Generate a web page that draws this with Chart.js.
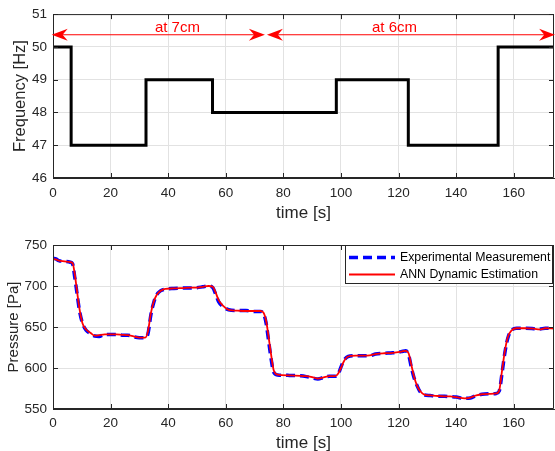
<!DOCTYPE html>
<html><head><meta charset="utf-8">
<script src="https://cdn.jsdelivr.net/npm/chart.js@4/dist/chart.umd.min.js"></script>
<style>
html,body{margin:0;padding:0;background:#fff;overflow:hidden;width:555px;height:451px}
#top{position:absolute;left:0;top:0;width:555px;height:226px}
#bot{position:absolute;left:0;top:226px;width:555px;height:235px}
</style></head><body>
<canvas id="top" width="555" height="226"></canvas>
<canvas id="bot" width="555" height="235"></canvas>
<script>
// ---------- data ----------
const freqTime = [0, 6.3, 32.3, 55.4, 98.4, 123.4, 154.6, 174];
const freqHz   = [50, 47, 49, 48, 49, 47, 50, 50];

const presTime = [0,1,2,4,6,6.8,7.5,8.3,9.2,10.2,11.5,13,14.5,16,18,20,22,24,26,28,30,32,
  33,34,35,36,37.3,39,42,45,48,50,52,54,55.5,56.5,57.5,59,61,64,67,70,72,73,74,75,75.8,76.6,
  78,82,86,88,90,92,94,96,98,99,100,101,102.5,105,108,110,112,115,118,121,122.5,123.5,124.5,
  125.5,126.5,127.5,129,131,133,136,138,140,143,145,147,149,152,154,155,156,157,158,159.3,
  161,164,167,169,171,174];
const presMeasured = [734,733,731,730,729,727,712,692,670,655,646,642,639,638.5,641,641,641,640,640,638,637,637,
  642,665,680,689,694,696,697,697.5,697.5,698,699,700,698,690,681,675,671,670,670,669,669,667,655,630,610,595,
  591.5,591,590.5,589.5,588,586.5,588.5,590,590,592,601,609,614,615,615,615,617,618,618.5,620,621,616,600,
  587,578,571,567,566.5,565.5,565.5,565,564.5,563,563.5,566.5,568,568.5,569,572,595,620,637,646,
  648.5,648.5,648,647.5,648.5,648];
const presEstimated = [733,732.5,731,730,729,728,716,695,672,655,647,643,639.5,640,641,641,641,640.5,640,638.5,637,637,
  645,667,681,689,694,696.5,697,697.5,698,698,699,700,699,692,683,676,671,670,669.5,669.5,669.5,668,658,635,615,598,
  592,591,590.5,590,589,587,588.5,590,590,593,600,608,614,615,615,615.5,617,618,618.5,620,621,618,603,
  588,578,572,567.5,566.5,566,565.5,565.5,564.5,563,564,566.5,568,568.5,569,573,598,622,638,646,
  648.5,648.5,648,647,648.5,648];

const xTicksStep = 20;
const seriesNames = ['Experimental Measurement', 'ANN Dynamic Estimation'];
const annotLabels = ['at 7cm', 'at 6cm'];

// ---------- style ----------
const FONT = "'Liberation Sans', Arial, Helvetica, sans-serif";
const TXT = '#262626';
const GRID = '#e2e2e2';
Chart.defaults.font.family = FONT;
Chart.defaults.color = TXT;

const framePlugin = {
  id: 'frame',
  afterDraw(chart) {
    const {ctx, chartArea: a, scales: {x, y}} = chart;
    ctx.save();
    ctx.strokeStyle = TXT;
    ctx.lineWidth = 1;
    ctx.beginPath();
    ctx.rect(a.left + 0.5, a.top + 0.5, a.right - a.left - 1, a.bottom - a.top - 1);
    const L = 5;
    x.ticks.forEach(t => {
      const p = Math.round(x.getPixelForValue(t.value)) + 0.5;
      ctx.moveTo(p, a.bottom); ctx.lineTo(p, a.bottom - L);
      ctx.moveTo(p, a.top); ctx.lineTo(p, a.top + L);
    });
    y.ticks.forEach(t => {
      const p = Math.round(y.getPixelForValue(t.value)) + 0.5;
      ctx.moveTo(a.left, p); ctx.lineTo(a.left + L, p);
      ctx.moveTo(a.right, p); ctx.lineTo(a.right - L, p);
    });
    ctx.stroke();
    ctx.restore();
  }
};

function head(ctx, tx, ty, dir) {
  const L = 16, W = 12, N = 0.68 * L;
  ctx.beginPath();
  ctx.moveTo(tx, ty);
  ctx.lineTo(tx + dir * L, ty - W / 2);
  ctx.lineTo(tx + dir * N, ty);
  ctx.lineTo(tx + dir * L, ty + W / 2);
  ctx.closePath();
  ctx.fill();
}

const arrowPlugin = {
  id: 'arrows',
  afterDraw(chart) {
    const {ctx, scales: {x, y}} = chart;
    const spans = [[-0.45, 73.6], [74.3, 174.4]];
    const lvl = y.getPixelForValue(50.37);
    const txtY = y.getPixelForValue(50.44);
    const txtX = [43.2, 118.6];
    ctx.save();
    ctx.strokeStyle = '#ff0000';
    ctx.fillStyle = '#ff0000';
    ctx.lineWidth = 1.2;
    spans.forEach(s => {
      const a = x.getPixelForValue(s[0]), b = x.getPixelForValue(s[1]);
      ctx.beginPath(); ctx.moveTo(a + 8, lvl); ctx.lineTo(b - 8, lvl); ctx.stroke();
      head(ctx, a, lvl, 1);
      head(ctx, b, lvl, -1);
    });
    ctx.font = '15px ' + FONT;
    ctx.textAlign = 'center';
    ctx.textBaseline = 'alphabetic';
    annotLabels.forEach((t, i) => ctx.fillText(t, x.getPixelForValue(txtX[i]), txtY));
    ctx.restore();
  }
};

const legendPlugin = {
  id: 'boxlegend',
  afterDraw(chart) {
    const {ctx, chartArea: a} = chart;
    const l = a.right - 209, t = a.top, r = a.right - 1, b = a.top + 39;
    ctx.save();
    ctx.fillStyle = '#fff';
    ctx.fillRect(l, t, r - l, b - t);
    ctx.strokeStyle = TXT; ctx.lineWidth = 1;
    ctx.strokeRect(l + 0.5, t + 0.5, r - l - 1, b - t - 1);
    const ds = chart.data.datasets;
    const rows = [t + 12.5, t + 29.5];
    ds.forEach((d, i) => {
      ctx.beginPath();
      ctx.strokeStyle = d.borderColor;
      ctx.lineWidth = d.borderWidth;
      ctx.setLineDash(d.borderDash || []);
      ctx.moveTo(l + 4, rows[i]); ctx.lineTo(l + 50, rows[i]);
      ctx.stroke();
      ctx.setLineDash([]);
      ctx.fillStyle = '#000';
      ctx.font = '12.3px ' + FONT;
      ctx.textAlign = 'left'; ctx.textBaseline = 'middle';
      ctx.fillText(d.label, l + 55, rows[i] + 0.5);
    });
    ctx.restore();
  }
};

function xAxis(h, tickPad, titlePadBottom) {
  return {
    type: 'linear', min: 0, max: 174,
    ticks: { stepSize: xTicksStep, includeBounds: false, padding: tickPad, font: { size: 13.5 }, color: TXT, maxRotation: 0 },
    grid: { color: GRID, drawTicks: false, lineWidth: 1 },
    border: { display: true, color: TXT, width: 1 },
    title: { display: true, text: 'time [s]', font: { size: 17 }, color: TXT, padding: { top: 0, bottom: titlePadBottom } },
    afterFit: s => { s.height = h; }
  };
}
function yAxis(min, max, step, title, titleSize, titlePad) {
  return {
    type: 'linear', min: min, max: max,
    ticks: { stepSize: step, padding: 6, font: { size: 13.5 }, color: TXT },
    grid: { color: GRID, drawTicks: false, lineWidth: 1 },
    border: { display: true, color: TXT, width: 1 },
    title: { display: true, text: title, font: { size: titleSize }, color: TXT, padding: { top: titlePad, bottom: 0 } },
    afterFit: s => { s.width = 53; }
  };
}

new Chart(document.getElementById('top'), {
  type: 'line',
  data: { datasets: [{
    label: 'Frequency',
    data: freqTime.map((t, i) => ({ x: t, y: freqHz[i] })),
    borderColor: '#000', borderWidth: 3, pointRadius: 0, stepped: 'before',
    borderJoinStyle: 'miter', borderCapStyle: 'butt', fill: false
  }]},
  options: {
    responsive: false, animation: false, events: [],
    layout: { padding: { top: 14, right: 1, left: 0, bottom: 0 } },
    plugins: { legend: { display: false }, tooltip: { enabled: false } },
    scales: { x: xAxis(48, 7, 2.5), y: yAxis(46, 51, 1, 'Frequency [Hz]', 16.5, 10.9) }
  },
  plugins: [framePlugin, arrowPlugin]
});

new Chart(document.getElementById('bot'), {
  type: 'line',
  data: { datasets: [
    { label: seriesNames[0], data: presTime.map((t, i) => ({ x: t, y: presMeasured[i] })),
      borderColor: '#0000ff', borderWidth: 3.5, borderDash: [9, 5], pointRadius: 0,
      cubicInterpolationMode: 'monotone', fill: false, order: 1 },
    { label: seriesNames[1], data: presTime.map((t, i) => ({ x: t, y: presEstimated[i] })),
      borderColor: '#ff0000', borderWidth: 1.8, pointRadius: 0,
      cubicInterpolationMode: 'monotone', fill: false, order: 0 }
  ]},
  options: {
    responsive: false, animation: false, events: [],
    layout: { padding: { top: 19, right: 1, left: 0, bottom: 0 } },
    plugins: { legend: { display: false }, tooltip: { enabled: false } },
    scales: { x: xAxis(52, 6.5, 7.5), y: yAxis(550, 750, 50, 'Pressure [Pa]', 15, 4.7) }
  },
  plugins: [framePlugin, legendPlugin]
});
</script>
</body></html>
